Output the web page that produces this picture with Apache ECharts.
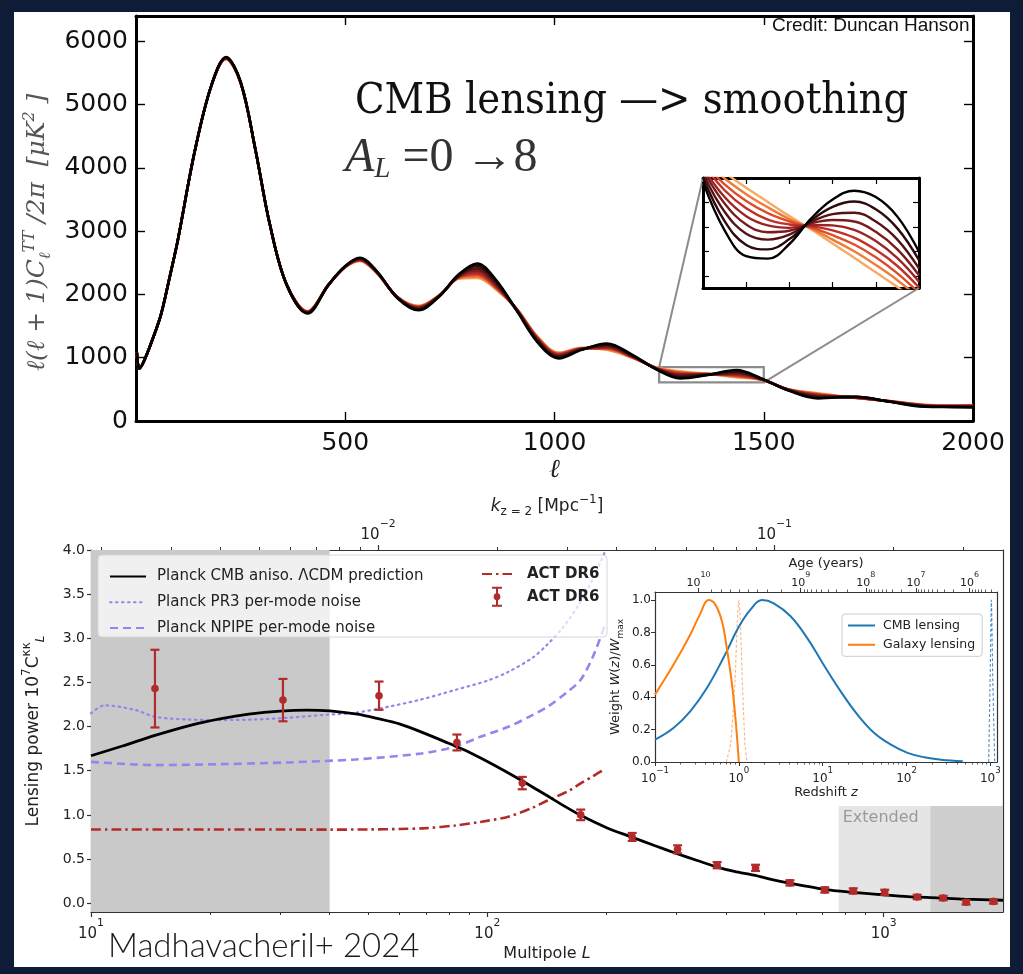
<!DOCTYPE html>
<html>
<head>
<meta charset="utf-8">
<script src="https://cdn.jsdelivr.net/npm/echarts@6/dist/echarts.min.js"></script>
<style>
  html, body { margin: 0; padding: 0; background: #0e1c38; }
  #main { width: 1023px; height: 974px; }
</style>
</head>
<body>
<div id="main"></div>
<script>
// ================= top panel : lensed TT spectrum, A_L = 0 .. 8 =================
var ell = [2, 8, 20, 40, 60, 80, 100, 140, 180, 215, 250, 285, 320, 360, 410, 460, 500, 535, 575, 625, 675, 725,
           770, 815, 860, 910, 960, 1010, 1065, 1125, 1185, 1245, 1300, 1365, 1435, 1495, 1560, 1630, 1720, 1800, 1885, 1950, 2000];
var ttAL0 = [1080, 830, 960, 1300, 1690, 2260, 2860, 4250, 5300, 5750, 5360, 4300, 3100, 2150, 1700, 2150, 2450, 2580, 2370, 1940, 1750, 1970, 2310, 2490, 2230, 1740, 1240, 990, 1125, 1225, 1050, 810, 674, 726, 805, 670, 480, 358, 384, 305, 226, 220, 216];
var ttAL1 = [1080, 830, 960, 1300, 1690, 2260, 2860, 4250, 5300, 5745, 5357, 4300, 3100, 2152, 1706, 2151, 2447, 2572, 2365, 1943, 1762, 1973, 2300, 2452, 2205, 1745, 1255, 1005, 1130, 1208, 1042, 815, 692, 729, 786, 667, 483, 371, 381, 307, 231, 224, 222];
var ttAL2 = [1080, 830, 960, 1300, 1690, 2260, 2860, 4250, 5300, 5740, 5353, 4300, 3100, 2153, 1712, 2152, 2443, 2563, 2360, 1947, 1773, 1977, 2290, 2414, 2180, 1750, 1270, 1020, 1135, 1192, 1033, 820, 710, 733, 767, 663, 487, 384, 377, 308, 236, 228, 228];
var ttAL3 = [1080, 830, 960, 1300, 1690, 2260, 2860, 4250, 5300, 5736, 5351, 4300, 3100, 2155, 1716, 2152, 2441, 2557, 2356, 1949, 1782, 1979, 2282, 2384, 2161, 1754, 1281, 1031, 1139, 1179, 1027, 824, 725, 735, 752, 661, 489, 395, 375, 310, 240, 232, 232];
var ttAL4 = [1080, 830, 960, 1300, 1690, 2260, 2860, 4250, 5300, 5732, 5348, 4300, 3100, 2156, 1721, 2153, 2438, 2550, 2352, 1952, 1791, 1982, 2275, 2354, 2141, 1758, 1293, 1043, 1143, 1166, 1020, 828, 739, 738, 737, 658, 492, 405, 372, 311, 244, 235, 237];
var ttAL5 = [1080, 830, 960, 1300, 1690, 2260, 2860, 4250, 5300, 5729, 5346, 4300, 3100, 2157, 1725, 2154, 2436, 2545, 2349, 1954, 1799, 1984, 2268, 2329, 2125, 1761, 1303, 1053, 1146, 1155, 1015, 831, 751, 740, 724, 656, 494, 414, 370, 312, 247, 238, 241];
var ttAL6 = [1080, 830, 960, 1300, 1690, 2260, 2860, 4250, 5300, 5726, 5344, 4300, 3100, 2158, 1728, 2154, 2434, 2540, 2346, 1956, 1806, 1986, 2262, 2306, 2110, 1764, 1312, 1062, 1149, 1145, 1010, 834, 762, 742, 713, 654, 496, 422, 368, 313, 250, 240, 244];
var ttAL7 = [1080, 830, 960, 1300, 1690, 2260, 2860, 4250, 5300, 5723, 5342, 4300, 3100, 2159, 1732, 2155, 2432, 2534, 2343, 1958, 1814, 1988, 2255, 2281, 2093, 1767, 1322, 1072, 1152, 1134, 1005, 837, 774, 744, 700, 652, 498, 431, 366, 314, 253, 243, 248];
var ttAL8 = [1080, 830, 960, 1300, 1690, 2260, 2860, 4250, 5300, 5720, 5340, 4300, 3100, 2160, 1735, 2155, 2430, 2530, 2340, 1960, 1820, 1990, 2250, 2260, 2080, 1770, 1330, 1080, 1155, 1125, 1000, 840, 784, 746, 690, 650, 500, 438, 364, 315, 256, 245, 251];

// zoomed window 1250 < l < 1500
var ellZoom = [1250, 1275, 1300, 1325, 1350, 1375, 1400, 1425, 1450, 1475, 1500];
var zoomAL0 = [842, 743, 690, 685, 715, 767, 806, 824, 811, 771, 699];
var zoomAL1 = [851, 762, 713, 704, 725, 763, 791, 802, 786, 747, 682];
var zoomAL2 = [859, 781, 736, 724, 734, 760, 776, 779, 761, 724, 665];
var zoomAL3 = [866, 798, 755, 739, 742, 757, 764, 761, 740, 704, 651];
var zoomAL4 = [871, 811, 772, 753, 748, 754, 753, 744, 721, 686, 638];
var zoomAL5 = [878, 825, 788, 765, 755, 751, 743, 728, 703, 670, 626];
var zoomAL6 = [882, 837, 803, 778, 761, 749, 733, 714, 688, 655, 615];
var zoomAL7 = [887, 849, 817, 790, 766, 747, 724, 700, 672, 641, 605];
var zoomAL8 = [893, 861, 830, 801, 772, 745, 716, 687, 657, 627, 595];

var ttCurves = [ttAL0, ttAL1, ttAL2, ttAL3, ttAL4, ttAL5, ttAL6, ttAL7, ttAL8];
var zoomCurves = [zoomAL0, zoomAL1, zoomAL2, zoomAL3, zoomAL4, zoomAL5, zoomAL6, zoomAL7, zoomAL8];
var alColors = ['#000000', '#2e0b0b', '#551414', '#7a1c1c', '#9d2424', '#bf3127', '#dc4d2b', '#ef7b38', '#f6aa62'];
var zoomBox = [1250, 1500, 610, 850];      // l range, D range of the grey box
var zoomYRange = [625, 850];
var zoomYTicks = [650, 700, 750, 800];

// ================= bottom panel : lensing power spectrum =================
var lensL = [10, 12, 14.5, 18, 21.3, 25, 30, 35, 40, 47, 53, 60, 68, 78, 90, 100, 113, 123, 140, 153,
             172, 200, 231, 265, 300, 340, 378, 420, 470, 520, 573, 630, 689, 800, 983, 1150, 1365, 1600, 2000];
var lensLCDM = [1.67, 1.78, 1.90, 2.02, 2.09, 2.14, 2.175, 2.187, 2.178, 2.14, 2.09, 2.03, 1.94, 1.83, 1.71, 1.605, 1.475, 1.38, 1.23, 1.125,
                0.995, 0.855, 0.75, 0.65, 0.563, 0.48, 0.412, 0.36, 0.317, 0.27, 0.23, 0.195, 0.166, 0.13, 0.098, 0.075, 0.06, 0.045, 0.033];
var pr3L = [10, 10.8, 12.9, 14.5, 17.6, 21.3, 25.9, 31.4, 38.1, 46.4, 56.3, 68.2, 82.8, 100, 113, 130, 141, 155, 170, 185, 198];
var pr3Noise = [2.15, 2.24, 2.19, 2.11, 2.08, 2.074, 2.08, 2.10, 2.13, 2.157, 2.225, 2.308, 2.414, 2.52, 2.62, 2.78, 2.92, 3.12, 3.38, 3.68, 3.98];
var npipeL = [10, 12.9, 14.5, 21.3, 31.4, 46.4, 68.2, 82.8, 96, 113, 130, 141.5, 160, 172, 185, 198];
var npipeNoise = [1.60, 1.571, 1.564, 1.575, 1.594, 1.628, 1.696, 1.771, 1.884, 1.998, 2.13, 2.22, 2.40, 2.53, 2.80, 3.15];
var actNL = [10, 20, 30, 40, 50, 60, 70, 83, 96, 113, 130, 141.5, 160, 172, 185, 198];
var actNoise = [0.835, 0.835, 0.834, 0.833, 0.835, 0.84, 0.85, 0.88, 0.92, 0.98, 1.08, 1.16, 1.27, 1.356, 1.44, 1.52];
var actL = [14.5, 30.5, 53.3, 83.8, 122.5, 172, 232, 302, 380, 475, 580, 710, 838, 1006, 1215, 1413, 1614, 1892];
var actVal = [2.43, 2.30, 2.35, 1.82, 1.36, 1.00, 0.75, 0.61, 0.43, 0.40, 0.23, 0.15, 0.138, 0.122, 0.07, 0.058, 0.01, 0.02];
var actErr = [0.44, 0.24, 0.16, 0.09, 0.07, 0.06, 0.045, 0.045, 0.035, 0.035, 0.03, 0.03, 0.03, 0.03, 0.025, 0.025, 0.025, 0.025];
var shadeLow = [10, 40];
var shadeExt = [770, 1310];
var shadeHigh = [1310, 2000];
var shadeTop = 1.1;
var kScale = 5300;                   // k_{z=2} = L / chi(z=2)
var lMajor = [10, 100, 1000], lMajorExp = ['1', '2', '3'];
var kMajor = [0.01, 0.1], kMajorExp = ['\u22122', '\u22121'];
var lensYTicks = [0, 0.5, 1.0, 1.5, 2.0, 2.5, 3.0, 3.5, 4.0];

// inset : lensing kernels
var cmbZ = [0.1, 0.166, 0.263, 0.416, 0.658, 1.0, 1.37, 1.89, 2.61, 4.14, 6.55, 10, 16.4, 26, 41.2, 65.2, 103, 163, 259, 469];
var cmbW = [0.138, 0.21, 0.313, 0.457, 0.645, 0.835, 0.94, 1.0, 0.98, 0.9, 0.765, 0.61, 0.436, 0.292, 0.179, 0.107, 0.056, 0.029, 0.014, 0.004];
var galZ = [0.1, 0.166, 0.263, 0.346, 0.435, 0.52, 0.63, 0.72, 0.83, 0.925, 1.0];
var galW = [0.416, 0.60, 0.786, 0.915, 1.0, 0.975, 0.868, 0.70, 0.477, 0.23, 0.0];
var galSrcZ = [0.71, 0.8, 0.9, 0.96, 1.0, 1.04, 1.1, 1.18, 1.25];
var galSrcW = [0, 0.12, 0.5, 0.88, 1.0, 0.88, 0.5, 0.12, 0];
var cmbSrcZ = [955, 1000, 1028, 1070, 1127];
var cmbSrcW = [0, 0.6, 1.0, 0.5, 0];
var zMajor = [0.1, 1, 10, 100, 1000], zMajorExp = ['\u22121', '0', '1', '2', '3'];
var ageTickZ = [0.33, 5.46, 32.7, 130, 565], ageTickExp = ['10', '9', '8', '7', '6'];
var ageMinorZ = [0.47, 0.62, 0.80, 1.01, 1.28, 1.65, 2.2, 3.2, 5.97, 6.6, 7.37, 8.38, 9.7, 11.6, 14.6, 19.9,
                 35.8, 38.4, 41.6, 45.6, 50.8, 57.9, 68.5, 86.7, 139, 150, 163, 180, 202, 233, 281, 364,
                 604, 652, 710, 783, 878, 1013];
var weightYTicks = [0, 0.2, 0.4, 0.6, 0.8, 1.0];

function pairs(xs, ys) {
    var out = [];
    for (var i = 0; i < xs.length; i++) out.push([xs[i], ys[i]]);
    return out;
}
function minorTicks(lo, hi) {
    var out = [];
    for (var e = -4; e < 4; e++) {
        for (var m = 2; m < 10; m++) {
            var v = m * Math.pow(10, e);
            if (v > lo * 1.0001 && v < hi * 0.9999) out.push(v);
        }
    }
    return out;
}
function expLabel(vals, exps) {
    return function (v) {
        for (var i = 0; i < vals.length; i++) {
            if (Math.abs(v / vals[i] - 1) < 1e-3) return '{b|10}{s|' + exps[i] + '}';
        }
        return '';
    };
}
function supRich(size) {
    return {
        b: { fontFamily: 'DejaVu Sans', fontSize: size, color: '#222', lineHeight: size * 1.6, verticalAlign: 'bottom' },
        s: { fontFamily: 'DejaVu Sans', fontSize: size * 0.72, color: '#222', lineHeight: size * 0.8, verticalAlign: 'top' }
    };
}

var chart = echarts.init(document.getElementById('main'));

var F = 'DejaVu Sans';
var frame3 = { show: true, onZero: false, lineStyle: { color: '#000', width: 3 } };
var frameThin = { show: true, onZero: false, lineStyle: { color: '#333', width: 1.2 } };
var noLabel = { show: false };
var noSplit = { show: false };

var series = [];
// top main curves, most lensed first so black is on top
for (var k = 8; k >= 0; k--) {
    series.push({
        type: 'line', xAxisIndex: 0, yAxisIndex: 0, data: pairs(ell, ttCurves[k]),
        smooth: 0.35, symbol: 'none', silent: true,
        lineStyle: { color: alColors[k], width: 2.6 }
    });
}
series[series.length - 1].markArea = {
    silent: true,
    itemStyle: { color: 'rgba(0,0,0,0)', borderColor: '#8c8c8c', borderWidth: 2.2 },
    data: [[{ coord: [zoomBox[0], zoomBox[2]] }, { coord: [zoomBox[1], zoomBox[3]] }]]
};
for (var k2 = 8; k2 >= 0; k2--) {
    series.push({
        type: 'line', xAxisIndex: 2, yAxisIndex: 2, data: pairs(ellZoom, zoomCurves[k2]),
        smooth: 0.4, symbol: 'none', silent: true, clip: true,
        lineStyle: { color: alColors[k2], width: 2.4 }
    });
}
// bottom main
series.push({
    type: 'line', xAxisIndex: 4, yAxisIndex: 4, data: [], z: 1, silent: true,
    markArea: {
        silent: true,
        data: [
            [{ coord: [shadeLow[0], -0.1], itemStyle: { color: '#c9c9c9' } }, { coord: [shadeLow[1], 4.0] }],
            [{ coord: [shadeExt[0], -0.1], itemStyle: { color: '#e5e5e5' },
               label: { show: true, position: 'insideTopLeft', formatter: 'Extended', color: '#9a9a9a', fontFamily: F, fontSize: 16, distance: 4 } },
             { coord: [shadeExt[1], shadeTop] }],
            [{ coord: [shadeHigh[0], -0.1], itemStyle: { color: '#cfcfcf' } }, { coord: [shadeHigh[1], shadeTop] }]
        ]
    }
});
series.push({
    name: 'Planck PR3 per-mode noise', type: 'line', xAxisIndex: 4, yAxisIndex: 4, z: 2,
    data: pairs(pr3L, pr3Noise), smooth: 0.3, symbol: 'none',
    lineStyle: { color: '#9485ee', width: 2.2, type: [1.6, 4.4], cap: 'round' }, itemStyle: { color: '#9485ee' }
});
series.push({
    name: 'Planck NPIPE per-mode noise', type: 'line', xAxisIndex: 4, yAxisIndex: 4, z: 2,
    data: pairs(npipeL, npipeNoise), smooth: 0.3, symbol: 'none',
    lineStyle: { color: '#9485ee', width: 2.6, type: [8, 5] }, itemStyle: { color: '#9485ee' }
});
series.push({
    name: 'ACT DR6 per-mode noise', type: 'line', xAxisIndex: 4, yAxisIndex: 4, z: 2,
    data: pairs(actNL, actNoise), smooth: 0.3, symbol: 'none',
    lineStyle: { color: '#b22b2b', width: 2.6, type: [10, 4, 2.5, 4] }, itemStyle: { color: '#b22b2b' }
});
series.push({
    name: 'Planck CMB aniso. \u039bCDM prediction', type: 'line', xAxisIndex: 4, yAxisIndex: 4, z: 4,
    data: pairs(lensL, lensLCDM), smooth: 0.3, symbol: 'none',
    lineStyle: { color: '#000', width: 2.8 }, itemStyle: { color: '#000' }
});
var actData = [];
for (var i = 0; i < actL.length; i++) actData.push([actL[i], actVal[i], actErr[i]]);
series.push({
    name: 'ACT DR6', type: 'custom', xAxisIndex: 4, yAxisIndex: 4, z: 5,
    itemStyle: { color: '#b22b2b' },
    encode: { x: 0, y: 1 },
    data: actData,
    renderItem: function (params, api) {
        var x = api.value(0), y = api.value(1), e = api.value(2);
        var c = api.coord([x, y]);
        var hi = api.coord([x, y + e]);
        var lo = api.coord([x, y - e]);
        var cap = 4.5;
        var st = { stroke: '#b22b2b', lineWidth: 2.2 };
        return {
            type: 'group', children: [
                { type: 'line', shape: { x1: c[0], y1: hi[1], x2: c[0], y2: lo[1] }, style: st },
                { type: 'line', shape: { x1: c[0] - cap, y1: hi[1], x2: c[0] + cap, y2: hi[1] }, style: st },
                { type: 'line', shape: { x1: c[0] - cap, y1: lo[1], x2: c[0] + cap, y2: lo[1] }, style: st },
                { type: 'circle', shape: { cx: c[0], cy: c[1], r: 3.8 }, style: { fill: '#b22b2b' } }
            ]
        };
    }
});
// bottom inset
series.push({
    type: 'line', xAxisIndex: 8, yAxisIndex: 6, data: pairs(galSrcZ, galSrcW), smooth: 0.2, symbol: 'none', silent: true,
    lineStyle: { color: '#fbb57a', width: 1.1, type: [3, 2] }
});
series.push({
    type: 'line', xAxisIndex: 8, yAxisIndex: 6, data: pairs(cmbSrcZ, cmbSrcW), smooth: 0.2, symbol: 'none', silent: true,
    lineStyle: { color: '#4d8fc6', width: 1.1, type: [3, 2] }
});
series.push({
    name: 'CMB lensing', type: 'line', xAxisIndex: 8, yAxisIndex: 6, data: pairs(cmbZ, cmbW), smooth: 0.4, symbol: 'none',
    lineStyle: { color: '#1f77b4', width: 2 }, itemStyle: { color: '#1f77b4' }
});
series.push({
    name: 'Galaxy lensing', type: 'line', xAxisIndex: 8, yAxisIndex: 6, data: pairs(galZ, galW), smooth: 0.4, symbol: 'none',
    lineStyle: { color: '#ff7f0e', width: 2 }, itemStyle: { color: '#ff7f0e' }
});

var lMin = 10, lMax = 2000;
var errIcon = 'path://M2,0H10V1.6H2Z M2,14.4H10V16H2Z M5.2,0H6.8V16H5.2Z M3.3,8A2.7,2.7 0 1 1 8.7,8A2.7,2.7 0 1 1 3.3,8Z';
var hideSym = { opacity: 0 };

var option = {
    backgroundColor: '#0e1c38',
    animation: false,
    grid: [
        { left: 136, top: 16, width: 837, height: 405 },
        { left: 703, top: 178, width: 216, height: 110 },
        { left: 91, top: 550, width: 912, height: 362 },
        { left: 655, top: 592, width: 342, height: 170 }
    ],
    xAxis: [
        { gridIndex: 0, type: 'value', min: 0, max: 2000, interval: 500, position: 'bottom',
          axisLine: frame3, splitLine: noSplit,
          axisTick: { inside: true, length: 9, lineStyle: { color: '#000', width: 1.4 } },
          axisLabel: { fontFamily: F, fontSize: 25, color: '#111', margin: 10, formatter: function (v) { return v === 0 ? '' : v; } },
          name: '\u2113', nameLocation: 'middle', nameGap: 32,
          nameTextStyle: { fontFamily: 'DejaVu Serif', fontStyle: 'italic', fontSize: 26, color: '#222' } },
        { gridIndex: 0, type: 'value', min: 0, max: 2000, interval: 500, position: 'top',
          axisLine: frame3, splitLine: noSplit, axisLabel: noLabel,
          axisTick: { inside: true, length: 9, lineStyle: { color: '#000', width: 1.4 } } },
        { gridIndex: 1, type: 'value', min: 1250, max: 1500, interval: 50, position: 'bottom',
          axisLine: frame3, splitLine: noSplit, axisLabel: noLabel,
          axisTick: { inside: true, length: 6, lineStyle: { color: '#000', width: 1.2 } } },
        { gridIndex: 1, type: 'value', min: 1250, max: 1500, interval: 50, position: 'top',
          axisLine: frame3, splitLine: noSplit, axisLabel: noLabel,
          axisTick: { inside: true, length: 6, lineStyle: { color: '#000', width: 1.2 } } },
        // bottom main : multipole L
        { gridIndex: 2, type: 'log', logBase: 10, min: lMin, max: lMax, position: 'bottom',
          axisLine: frameThin, splitLine: noSplit,
          axisTick: { customValues: lMajor, length: 5, lineStyle: { color: '#333', width: 1.2 } },
          axisLabel: { customValues: lMajor, margin: 6, formatter: expLabel(lMajor, lMajorExp), rich: supRich(15) },
          name: '{n|Multipole }{i|L}', nameLocation: 'middle', nameGap: 34,
          nameTextStyle: { rich: { n: { fontFamily: F, fontSize: 16, color: '#222' }, i: { fontFamily: F, fontStyle: 'italic', fontSize: 16, color: '#222' } } } },
        { gridIndex: 2, type: 'log', logBase: 10, min: lMin, max: lMax, position: 'bottom',
          axisLine: { show: false, onZero: false }, splitLine: noSplit, axisLabel: noLabel,
          axisTick: { customValues: minorTicks(lMin, lMax), length: 3, lineStyle: { color: '#333', width: 1 } } },
        // bottom main : top k axis
        { gridIndex: 2, type: 'log', logBase: 10, min: lMin / kScale, max: lMax / kScale, position: 'top',
          axisLine: frameThin, splitLine: noSplit,
          axisTick: { customValues: kMajor, length: 5, lineStyle: { color: '#333', width: 1.2 } },
          axisLabel: { customValues: kMajor, margin: 7, formatter: expLabel(kMajor, kMajorExp), rich: supRich(15) },
          name: '{i|k}{sb|z = 2}{n| [Mpc}{sp|\u22121}{n|]}', nameLocation: 'middle', nameGap: 28,
          nameTextStyle: { rich: {
              i: { fontFamily: F, fontStyle: 'italic', fontSize: 17, color: '#222', lineHeight: 24 },
              n: { fontFamily: F, fontSize: 17, color: '#222', lineHeight: 24 },
              sb: { fontFamily: F, fontSize: 12, color: '#222', lineHeight: 12, verticalAlign: 'bottom' },
              sp: { fontFamily: F, fontSize: 12, color: '#222', lineHeight: 12, verticalAlign: 'top' } } } },
        { gridIndex: 2, type: 'log', logBase: 10, min: lMin / kScale, max: lMax / kScale, position: 'top',
          axisLine: { show: false, onZero: false }, splitLine: noSplit, axisLabel: noLabel,
          axisTick: { customValues: minorTicks(lMin / kScale, lMax / kScale), length: 3, lineStyle: { color: '#333', width: 1 } } },
        // bottom inset : redshift
        { gridIndex: 3, type: 'log', logBase: 10, min: 0.1, max: 1200, position: 'bottom',
          axisLine: frameThin, splitLine: noSplit,
          axisTick: { customValues: zMajor, length: 4, lineStyle: { color: '#333', width: 1 } },
          axisLabel: { customValues: zMajor, margin: 4, formatter: expLabel(zMajor, zMajorExp), rich: supRich(12) },
          name: '{n|Redshift }{i|z}', nameLocation: 'middle', nameGap: 19,
          nameTextStyle: { rich: { n: { fontFamily: F, fontSize: 13, color: '#222' }, i: { fontFamily: F, fontStyle: 'italic', fontSize: 13, color: '#222' } } } },
        { gridIndex: 3, type: 'log', logBase: 10, min: 0.1, max: 1200, position: 'bottom',
          axisLine: { show: false, onZero: false }, splitLine: noSplit, axisLabel: noLabel,
          axisTick: { customValues: minorTicks(0.1, 1200), length: 2.5, lineStyle: { color: '#333', width: 0.8 } } },
        // bottom inset : age on top
        { gridIndex: 3, type: 'log', logBase: 10, min: 0.1, max: 1200, position: 'top',
          axisLine: frameThin, splitLine: noSplit,
          axisTick: { customValues: ageTickZ, length: 4, lineStyle: { color: '#333', width: 1 } },
          axisLabel: { customValues: ageTickZ, margin: 3, formatter: expLabel(ageTickZ, ageTickExp), rich: supRich(11) },
          name: 'Age (years)', nameLocation: 'middle', nameGap: 22,
          nameTextStyle: { fontFamily: F, fontSize: 13, color: '#222' } },
        { gridIndex: 3, type: 'log', logBase: 10, min: 0.1, max: 1200, position: 'top',
          axisLine: { show: false, onZero: false }, splitLine: noSplit, axisLabel: noLabel,
          axisTick: { customValues: ageMinorZ, length: 2.5, lineStyle: { color: '#333', width: 0.8 } } }
    ],
    yAxis: [
        { gridIndex: 0, type: 'value', min: 0, max: 6400, interval: 1000, position: 'left',
          axisLine: frame3, splitLine: noSplit,
          axisTick: { inside: true, length: 9, lineStyle: { color: '#000', width: 1.4 } },
          axisLabel: { fontFamily: F, fontSize: 25, color: '#111', margin: 8, formatter: function (v) { return v % 1000 === 0 ? v : ''; } },
          name: '{i|\u2113(\u2113 + 1)C}{sb|\u2113}{sp|TT}{i| /2\u03c0  [\u03bcK}{sp|2}{i| ]}', nameLocation: 'middle', nameGap: 76, nameRotate: 90,
          nameTextStyle: { padding: [0, 28, 0, 0], rich: {
              i: { fontFamily: 'DejaVu Serif', fontStyle: 'italic', fontSize: 25, color: '#555', lineHeight: 32 },
              sp: { fontFamily: 'DejaVu Serif', fontStyle: 'italic', fontSize: 16, color: '#555', lineHeight: 15, verticalAlign: 'top' },
              sb: { fontFamily: 'DejaVu Serif', fontStyle: 'italic', fontSize: 16, color: '#555', lineHeight: 15, verticalAlign: 'bottom' } } } },
        { gridIndex: 0, type: 'value', min: 0, max: 6400, interval: 1000, position: 'right',
          axisLine: frame3, splitLine: noSplit, axisLabel: noLabel,
          axisTick: { inside: true, length: 9, lineStyle: { color: '#000', width: 1.4 } } },
        { gridIndex: 1, type: 'value', min: zoomYRange[0], max: zoomYRange[1], position: 'left',
          axisLine: frame3, splitLine: noSplit, axisLabel: noLabel,
          axisTick: { customValues: zoomYTicks, inside: true, length: 6, lineStyle: { color: '#000', width: 1.2 } } },
        { gridIndex: 1, type: 'value', min: zoomYRange[0], max: zoomYRange[1], position: 'right',
          axisLine: frame3, splitLine: noSplit, axisLabel: noLabel,
          axisTick: { customValues: zoomYTicks, inside: true, length: 6, lineStyle: { color: '#000', width: 1.2 } } },
        // bottom main
        { gridIndex: 2, type: 'value', min: -0.1, max: 4.0, position: 'left',
          axisLine: frameThin, splitLine: noSplit,
          axisTick: { customValues: lensYTicks, length: 4, lineStyle: { color: '#333', width: 1.2 } },
          axisLabel: { customValues: lensYTicks, fontFamily: F, fontSize: 14, color: '#222', margin: 6, formatter: function (v) { return v.toFixed(1); } },
          name: '{n|Lensing power 10}{sp|7}{n|C}{sp|\u03ba\u03ba}{sb|L}', nameLocation: 'middle', nameGap: 44, nameRotate: 90,
          nameTextStyle: { rich: {
              n: { fontFamily: F, fontSize: 17, color: '#222', lineHeight: 26 },
              sp: { fontFamily: F, fontSize: 12, color: '#222', lineHeight: 12, verticalAlign: 'top' },
              sb: { fontFamily: F, fontStyle: 'italic', fontSize: 12, color: '#222', lineHeight: 12, verticalAlign: 'bottom' } } } },
        { gridIndex: 2, type: 'value', min: -0.1, max: 4.0, position: 'right',
          axisLine: frameThin, splitLine: noSplit, axisLabel: noLabel, axisTick: { show: false } },
        // bottom inset
        { gridIndex: 3, type: 'value', min: 0, max: 1.05, position: 'left',
          axisLine: frameThin, splitLine: noSplit,
          axisTick: { customValues: weightYTicks, length: 4, lineStyle: { color: '#333', width: 1 } },
          axisLabel: { customValues: weightYTicks, fontFamily: F, fontSize: 12, color: '#222', margin: 4, formatter: function (v) { return v.toFixed(1); } },
          name: '{n|Weight }{i|W}{n|(}{i|z}{n|)/}{i|W}{sb|max}', nameLocation: 'middle', nameGap: 30, nameRotate: 90,
          nameTextStyle: { rich: {
              n: { fontFamily: F, fontSize: 13, color: '#222', lineHeight: 18 },
              i: { fontFamily: F, fontStyle: 'italic', fontSize: 13, color: '#222', lineHeight: 18 },
              sb: { fontFamily: F, fontSize: 9, color: '#222', lineHeight: 9, verticalAlign: 'bottom' } } } },
        { gridIndex: 3, type: 'value', min: 0, max: 1.05, position: 'right',
          axisLine: frameThin, splitLine: noSplit, axisLabel: noLabel, axisTick: { show: false } }
    ],
    legend: [
        { left: 104, top: 564, orient: 'vertical', itemWidth: 36, itemHeight: 14, itemGap: 10.7, selectedMode: false,
          itemStyle: hideSym,
          data: ['Planck CMB aniso. \u039bCDM prediction', 'Planck PR3 per-mode noise', 'Planck NPIPE per-mode noise'],
          textStyle: { fontFamily: F, fontSize: 15, color: '#222', padding: [0, 0, 0, 6] } },
        { left: 476, top: 561, orient: 'vertical', itemWidth: 30, itemHeight: 20, itemGap: 4.7, selectedMode: false,
          itemStyle: hideSym,
          data: [{ name: 'ACT DR6 per-mode noise' }, { name: 'ACT DR6', icon: errIcon, itemStyle: { opacity: 1 } }],
          formatter: function () { return 'ACT DR6'; },
          textStyle: { fontFamily: F, fontSize: 15, fontWeight: 'bold', color: '#222', padding: [0, 0, 0, 10] } },
        { left: 842, top: 614, orient: 'vertical', itemWidth: 27, itemHeight: 12, itemGap: 6.3, selectedMode: false,
          itemStyle: hideSym,
          padding: [5, 7, 5, 5], borderColor: '#cccccc', borderWidth: 1, borderRadius: 3, backgroundColor: 'rgba(255,255,255,0.85)',
          data: ['CMB lensing', 'Galaxy lensing'],
          textStyle: { fontFamily: F, fontSize: 12.5, color: '#222', padding: [0, 0, 0, 3] } }
    ],
    graphic: [
        { id: 'panel', type: 'rect', z: -10, silent: true, shape: { x: 14, y: 12, width: 996, height: 955 }, style: { fill: '#ffffff' } },
        { id: 'legbox', type: 'rect', z: 3, silent: true, shape: { x: 98, y: 555, width: 509, height: 82, r: 4 },
          style: { fill: 'rgba(255,255,255,0.72)', stroke: '#d6d6d6', lineWidth: 1 } },
        { id: 'credit', type: 'text', silent: true, x: 772, y: 26,
          style: { text: 'Credit: Duncan Hanson', font: '19px "Liberation Sans Narrow", "Liberation Sans", sans-serif', fill: '#111', verticalAlign: 'middle' } },
        { id: 'title', type: 'text', silent: true, x: 355, y: 102,
          style: { text: 'CMB lensing \u2014> smoothing', font: '43px "DejaVu Serif Condensed", "Liberation Serif", serif', fill: '#111', verticalAlign: 'middle' } },
        { id: 'al', type: 'text', silent: true, x: 345, y: 158,
          style: { text: '{a|A}{l|L}{b| =0 \u21928}', verticalAlign: 'middle',
                   rich: { a: { fontFamily: 'Liberation Serif', fontStyle: 'italic', fontSize: 48, fill: '#333', lineHeight: 52 },
                           l: { fontFamily: 'Liberation Serif', fontStyle: 'italic', fontSize: 29, fill: '#333', lineHeight: 27, verticalAlign: 'bottom' },
                           b: { fontFamily: 'Liberation Serif', fontSize: 48, fill: '#333', lineHeight: 52 } } } },
        { id: 'cite', type: 'text', silent: true, x: 108, y: 946,
          style: { text: 'Madhavacheril+ 2024', font: '300 33px Lato, "Open Sans", sans-serif', fill: '#1a1a1a', verticalAlign: 'middle' } }
    ],
    series: series
};

chart.setOption(option);

// connector lines between the grey box and the zoom inset
var a1 = chart.convertToPixel({ xAxisIndex: 0, yAxisIndex: 0 }, [zoomBox[0], zoomBox[3]]);
var b1 = chart.convertToPixel({ xAxisIndex: 2, yAxisIndex: 2 }, [ellZoom[0], zoomYRange[1]]);
var a2 = chart.convertToPixel({ xAxisIndex: 0, yAxisIndex: 0 }, [zoomBox[1], zoomBox[2]]);
var b2 = chart.convertToPixel({ xAxisIndex: 2, yAxisIndex: 2 }, [ellZoom[ellZoom.length - 1], zoomYRange[0]]);
chart.setOption({
    graphic: [
        { id: 'con1', type: 'line', silent: true, z: 1, shape: { x1: a1[0], y1: a1[1], x2: b1[0], y2: b1[1] }, style: { stroke: '#8c8c8c', lineWidth: 2 } },
        { id: 'con2', type: 'line', silent: true, z: 1, shape: { x1: a2[0], y1: a2[1], x2: b2[0], y2: b2[1] }, style: { stroke: '#8c8c8c', lineWidth: 2 } }
    ]
});

window.onresize = function () { chart.resize(); };
</script>
</body>
</html>
